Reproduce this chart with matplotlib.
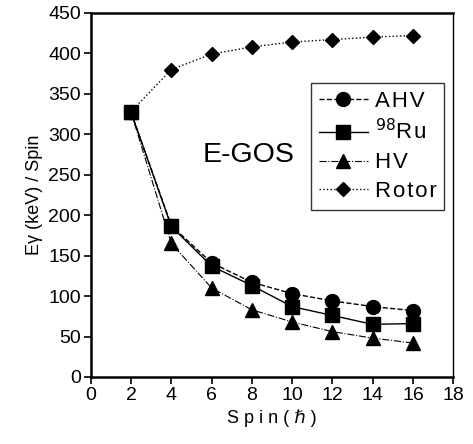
import matplotlib.pyplot as plt

plt.rcParams['font.family'] = ['Liberation Sans', 'DejaVu Sans']

spin = [2, 4, 6, 8, 10, 12, 14, 16]
ahv = [327, 187, 141, 117, 103, 94, 87, 82]
ru98 = [327, 186, 137, 113, 87, 76, 65, 66]
hv = [327, 165, 110, 83, 68, 56, 48, 42]
rotor = [328, 380, 399, 408, 414, 417, 420, 422]

fig = plt.figure(figsize=(4.73, 4.44), dpi=100)
ax = fig.add_axes([0.192, 0.151, 0.766, 0.820])

hs = '\u200a'
ax.plot(spin, ahv, 'k--', marker='o', ms=10, lw=1, label=hs.join('AHV'))
ax.plot(spin, ru98, 'k-', marker='s', ms=10, lw=1, label='$^{98}$R' + hs + 'u')
ax.plot(spin, hv, 'k-.', marker='^', ms=10, lw=0.8, label=hs.join('HV'))
ax.plot(spin, rotor, 'k:', marker='D', ms=7, lw=1, label=hs.join('Rotor'))

ax.set_xlim(0, 18)
ax.set_ylim(0, 450)
ax.set_xticks(range(0, 19, 2))
ax.set_yticks(range(0, 451, 50))
ax.tick_params(direction='out', length=5, width=1.2, labelsize=14, pad=2)
for s in ['left', 'bottom', 'top']:
    ax.spines[s].set_linewidth(1.8)
ax.spines['right'].set_linewidth(1)

ax.set_xlabel('S p i n ( ℏ )', fontsize=13)
ax.set_ylabel('Eγ (keV) / Spin', fontsize=13)

ax.text(0.309, 0.61, 'E-GOS', transform=ax.transAxes, fontsize=20.5,
        ha='left', va='center')

leg = ax.legend(loc='upper right', bbox_to_anchor=(0.975, 0.808), fontsize=16,
                frameon=True, fancybox=False, edgecolor='k', handlelength=2.2,
                handletextpad=0.3, borderpad=0.35, labelspacing=0.35,
                borderaxespad=0)
leg.get_frame().set_linewidth(1)

fig.savefig('out.png', dpi=100)
